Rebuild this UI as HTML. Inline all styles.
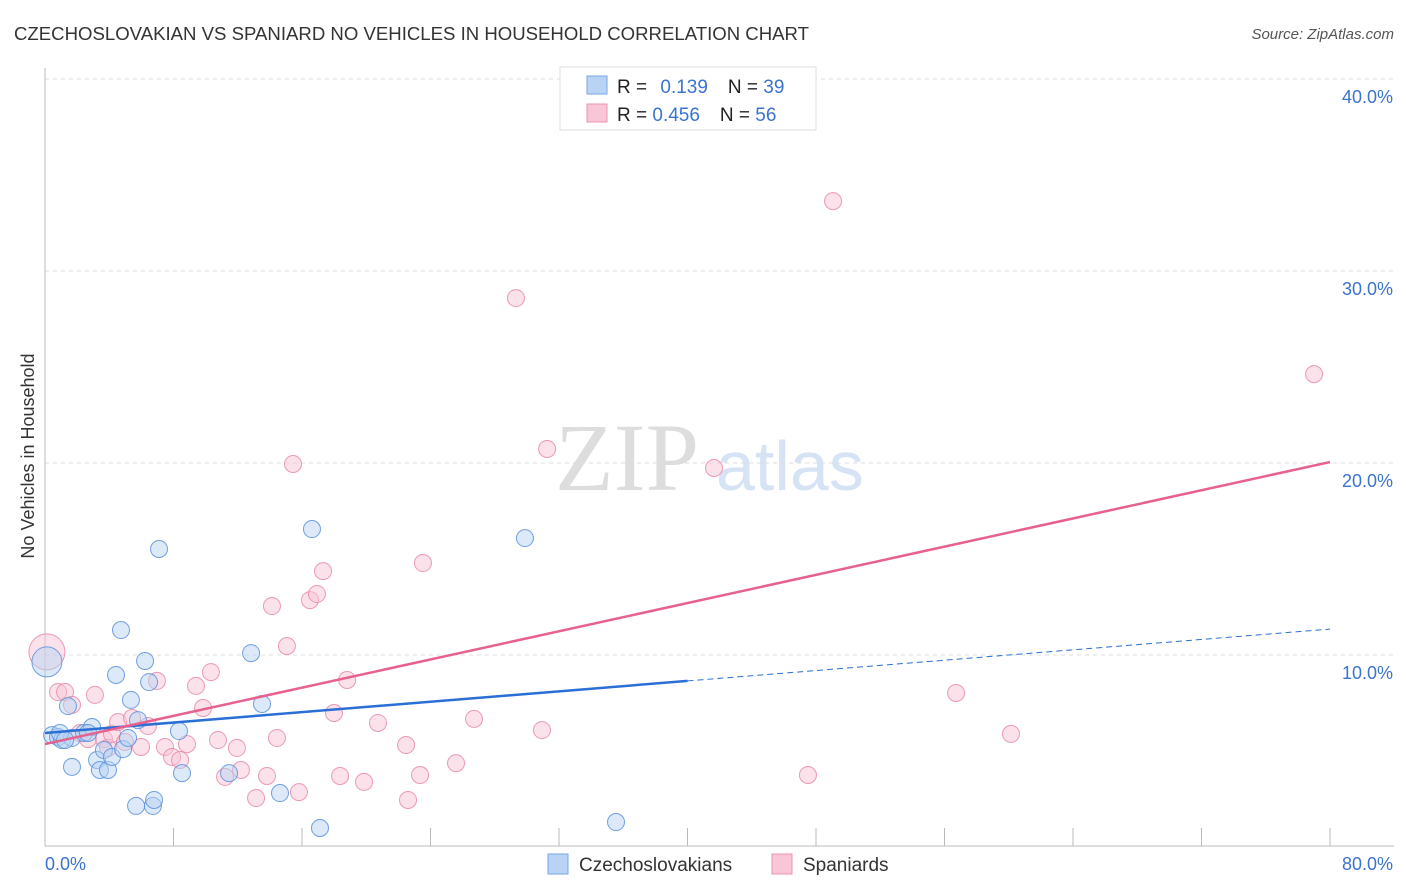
<!DOCTYPE html>
<html><head><meta charset="utf-8"><style>
body{margin:0;background:#fff;font-family:"Liberation Sans",sans-serif;}
svg{display:block}
</style></head><body>
<svg id="chart" width="1406" height="892">
<text x="14" y="40" font-size="18" fill="#333" textLength="795" lengthAdjust="spacingAndGlyphs">CZECHOSLOVAKIAN VS SPANIARD NO VEHICLES IN HOUSEHOLD CORRELATION CHART</text>
<text x="1394" y="39" font-size="15" fill="#555" font-style="italic" text-anchor="end">Source: ZipAtlas.com</text>
<text transform="translate(34,456) rotate(-90)" font-size="18" fill="#333" text-anchor="middle">No Vehicles in Household</text>
<text x="555" y="490" font-size="96" fill="#ddd" font-family="Liberation Serif,serif">ZIP</text>
<text x="716" y="490" font-size="70" fill="#d5e3f5">atlas</text>
<g id="grid"></g><g id="axes"></g><g id="pts"></g><g id="lines"></g>
<g>
<rect x="560" y="67" width="256" height="63" fill="#fff" stroke="#ddd"/>
<rect x="587" y="76" width="20" height="18" fill="#b8d3f3" stroke="#7aa7e0"/>
<rect x="587" y="104" width="20" height="18" fill="#f8c6d6" stroke="#ea94b0"/>
<text x="617" y="93" font-size="19" fill="#222">R = <tspan fill="#3b73d0" dx="8">0.139</tspan><tspan dx="20" fill="#222">N = </tspan><tspan fill="#3b73d0">39</tspan></text>
<text x="617" y="121" font-size="19" fill="#222">R = <tspan fill="#3b73d0">0.456</tspan><tspan dx="20" fill="#222">N = </tspan><tspan fill="#3b73d0">56</tspan></text>
</g>
<g>
<rect x="548" y="854" width="20" height="20" fill="#b8d3f3" stroke="#7aa7e0"/>
<text x="579" y="871" font-size="19" fill="#333">Czechoslovakians</text>
<rect x="772" y="854" width="20" height="20" fill="#f8c6d6" stroke="#ea94b0"/>
<text x="803" y="871" font-size="19" fill="#333">Spaniards</text>
</g>
</svg>
<script>
const blueX=[0.12,0.44,0.81,1.06,1.68,1.43,1.68,2.43,2.93,3.24,3.42,3.92,3.67,4.17,4.42,4.73,4.86,5.17,5.35,5.67,5.79,6.23,6.48,6.72,6.79,7.10,8.34,8.53,11.46,12.83,13.51,14.63,16.62,17.12,29.88,35.55,2.68,0.93,1.25];
const blueY=[9.64,5.83,5.73,5.57,5.68,7.34,4.17,5.94,6.25,4.53,4.01,4.01,5.05,4.69,8.96,11.30,5.10,5.68,7.66,2.14,6.61,9.69,8.59,2.14,2.45,15.52,6.04,3.85,3.85,10.10,7.45,2.81,16.56,0.99,16.09,1.30,5.94,5.94,5.57];
const pinkX=[0.12,0.81,1.25,1.68,2.18,2.68,3.11,3.67,3.92,4.17,4.55,4.98,5.42,5.98,6.41,6.97,7.47,7.91,8.41,8.84,9.40,9.84,10.33,10.77,11.21,11.95,12.20,13.14,13.82,14.44,15.06,15.44,14.13,15.81,16.50,16.93,17.31,17.99,18.37,18.81,19.86,20.73,22.48,22.60,23.35,23.53,25.59,26.71,29.32,30.94,31.26,41.65,47.50,49.06,56.72,60.14,79.01];
const pinkY=[10.16,8.07,8.07,7.40,5.94,5.62,7.92,5.62,5.16,5.89,6.51,5.47,6.72,5.21,6.30,8.65,5.21,4.69,4.53,5.36,8.39,7.24,9.11,5.57,3.65,5.16,4.01,2.55,3.70,5.68,10.47,19.95,12.55,2.86,12.86,13.18,14.37,6.98,3.70,8.70,3.39,6.46,5.31,2.45,3.75,14.79,4.37,6.67,28.59,6.09,20.73,19.74,3.75,33.64,8.02,5.89,24.63];
const xTicks=[0,8,16,24,32,40,48,56,64,72,80];
const yTicks=[10,20,30,40];
const blueLine=[5.94,8.65,11.35]; // at x=0,40,80
const pinkLine=[5.36,20.05]; // at x=0,80
const NS="http://www.w3.org/2000/svg";
const sx=v=>45+v/80*1285, sy=v=>847-v*19.2;
function mk(tag,attrs,parent){const e=document.createElementNS(NS,tag);for(const k in attrs)e.setAttribute(k,attrs[k]);document.getElementById(parent).appendChild(e);return e;}
yTicks.forEach(t=>{
 const l=mk('line',{x1:45,x2:1394,y1:sy(t),y2:sy(t),stroke:'#ddd','stroke-dasharray':'4,4'},'grid');
 
 
 const tx=mk('text',{x:1393,y:sy(t)+24,'font-size':18,fill:'#3b73d0','text-anchor':'end'},'grid');
 tx.textContent=t.toFixed(1)+'%';
 
 
});
mk('line',{x1:45,x2:45,y1:68,y2:846,stroke:'#bbb'},'axes');
mk('line',{x1:45,x2:1394,y1:846,y2:846,stroke:'#bbb'},'axes');
xTicks.forEach(t=>{const l=mk('line',{x1:sx(t),x2:sx(t),y1:828,y2:846,stroke:'#bbb'},'axes');
 
 });
let a=mk('text',{x:45,y:870,'font-size':18,fill:'#3b73d0'},'axes');a.textContent='0.0%';


a=mk('text',{x:1393,y:870,'font-size':18,fill:'#3b73d0','text-anchor':'end'},'axes');a.textContent='80.0%';


function pts(X,Y,fill,stroke,name,bigR){X.forEach((x,i)=>{
 const c=mk('circle',{cx:sx(x),cy:sy(Y[i]),r:i===0?bigR:8.5,fill:fill,'fill-opacity':0.5,stroke:stroke,'stroke-width':1,'stroke-opacity':0.85},'pts');
 
 });}
pts(pinkX,pinkY,'#f8c6d6','#e88aa8','spaniard-point',18);
pts(blueX,blueY,'#b8d3f3','#5b8fdc','czech-point',15);
let ln=mk('line',{x1:sx(0),y1:sy(blueLine[0]),x2:sx(40),y2:sy(blueLine[1]),stroke:'#2a6fd6','stroke-width':2.5},'lines');


ln=mk('line',{x1:sx(40),y1:sy(blueLine[1]),x2:sx(80),y2:sy(blueLine[2]),stroke:'#2a6fd6','stroke-width':1,'stroke-dasharray':'6,4'},'lines');


ln=mk('line',{x1:sx(0),y1:sy(pinkLine[0]),x2:sx(80),y2:sy(pinkLine[1]),stroke:'#e8608e','stroke-width':2.5},'lines');


</script>
</body></html>
